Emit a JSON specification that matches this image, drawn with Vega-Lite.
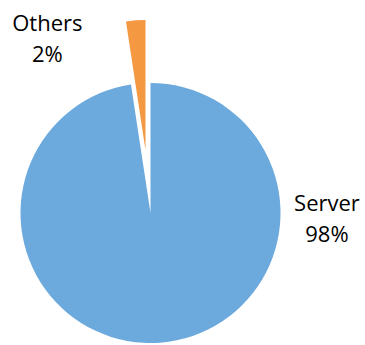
{
  "$schema": "https://vega.github.io/schema/vega-lite/v6.json",
  "width": 261,
  "height": 260,
  "autosize": {"type": "none"},
  "padding": {"left": 20, "top": 83, "right": 84, "bottom": 2},
  "background": "white",
  "config": {"view": {"stroke": null}},
  "data": {
    "values": [
      {"category": "Server", "value": 97.6, "ord": 1, "label": "Server\n98%"},
      {"category": "Others", "value": 2.4, "ord": 2, "label": "Others\n2%"}
    ]
  },
  "encoding": {
    "theta": {"field": "value", "type": "quantitative", "stack": true},
    "order": {"field": "ord", "type": "quantitative"},
    "detail": {"field": "category", "type": "nominal"}
  },
  "layer": [
    {
      "mark": {"type": "arc", "outerRadius": 130},
      "encoding": {
        "color": {"field": "category", "type": "nominal", "scale": {"domain": ["Server", "Others"], "range": ["#6CAADD", "#F49842"]}, "legend": null},
        "opacity": {"condition": {"test": "datum.category === 'Server'", "value": 1}, "value": 0}
      }
    },
    {
      "mark": {"type": "arc", "outerRadius": 130, "xOffset": -5, "yOffset": -63},
      "encoding": {
        "color": {"field": "category", "type": "nominal", "scale": {"domain": ["Server", "Others"], "range": ["#6CAADD", "#F49842"]}, "legend": null},
        "opacity": {"condition": {"test": "datum.category === 'Others'", "value": 1}, "value": 0}
      }
    },
    {
      "mark": {"type": "text", "radius": 174, "dx": -90, "dy": -15, "align": "center", "baseline": "middle", "font": "Open Sans", "fontSize": 22, "lineHeight": 31, "lineBreak": "\n", "color": "#000000"},
      "encoding": {
        "text": {"field": "label"},
        "opacity": {"condition": {"test": "datum.category === 'Others'", "value": 1}, "value": 0}
      }
    },
    {
      "mark": {"type": "text", "radius": 6, "dx": 176, "dy": -15, "align": "center", "baseline": "middle", "font": "Open Sans", "fontSize": 22, "lineHeight": 31, "lineBreak": "\n", "color": "#000000"},
      "encoding": {
        "text": {"field": "label"},
        "opacity": {"condition": {"test": "datum.category === 'Server'", "value": 1}, "value": 0}
      }
    }
  ]
}
